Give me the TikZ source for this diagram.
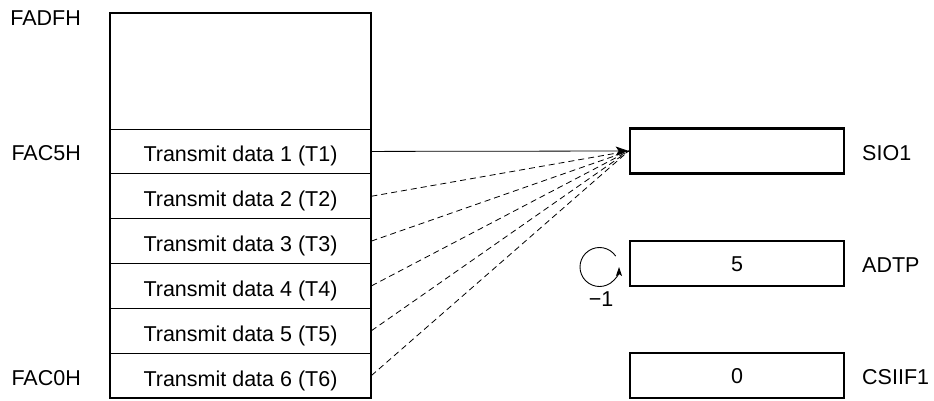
\documentclass[tikz,border=0pt]{standalone}
\usepackage{fontspec}
\setmainfont{Liberation Sans}
\usetikzlibrary{arrows.meta}
\begin{document}
\begin{tikzpicture}[x=1pt,y=-1pt,
  font=\fontsize{21.5}{25}\selectfont,
  rowbox/.style={draw, line width=0.8pt, minimum width=261pt, minimum height=44.83pt, inner sep=0pt, text height=21pt, text depth=0pt},
  membox/.style={draw, line width=2.6pt, minimum width=261pt, minimum height=385pt, inner sep=0pt},
  regbox/.style={draw, line width=2.6pt, minimum width=214pt, minimum height=45pt, inner sep=0pt, text height=15pt, text depth=0pt},
  lbl/.style={inner sep=0pt},
  conn/.style={line width=0.8pt},
  dconn/.style={line width=0.8pt, dash pattern=on 6pt off 4pt},
  tip/.style={-{Stealth[length=13pt,width=9pt,inset=3pt]}}
]
\useasboundingbox (0,0) rectangle (934,400);

% memory rows
\node[rowbox] (r1) at (240.5,151.415) {Transmit data 1 (T1)};
\node[rowbox] (r2) at (240.5,196.245) {Transmit data 2 (T2)};
\node[rowbox] (r3) at (240.5,241.075) {Transmit data 3 (T3)};
\node[rowbox] (r4) at (240.5,285.905) {Transmit data 4 (T4)};
\node[rowbox] (r5) at (240.5,330.735) {Transmit data 5 (T5)};
\node[rowbox] (r6) at (240.5,375.565) {Transmit data 6 (T6)};
\node[membox] (mem) at (240.5,205.5) {};

% address labels
\node[lbl, anchor=east] (aTop) at (81,18) {FADFH};
\node[lbl, anchor=east] (aT1) at (81,153) {FAC5H};
\node[lbl, anchor=east] (aT6) at (81,378) {FAC0H};

% registers
\node[regbox] (sio) at (737,151) {};
\node[regbox] (adtp) at (737,263.5) {5};
\node[regbox] (csi) at (737,375.5) {0};

\node[lbl, anchor=west] (lsio) at (862,153) {SIO1};
\node[lbl, anchor=west] (ladtp) at (862,265) {ADTP};
\node[lbl, anchor=west] (lcsi) at (862,377) {CSIIF1};

% connectors
\draw[conn, tip] (r1.east) -- (sio.west);
\draw[dconn] (r2.east) -- (sio.west);
\draw[dconn] (r3.east) -- (sio.west);
\draw[dconn] (r4.east) -- (sio.west);
\draw[dconn] (r5.east) -- (sio.west);
\draw[dconn] (r6.east) -- (sio.west);

% decrement loop
\coordinate (loopc) at (599.5,267);
\draw[line width=0.9pt, -{Stealth[length=9pt,width=6pt,inset=2pt]}]
  ([shift={(-34:19.5)}]loopc) arc[start angle=-34, end angle=-360, radius=19.5];
\node[lbl] (dec) at (601,299) {−1};
\end{tikzpicture}
\end{document}
